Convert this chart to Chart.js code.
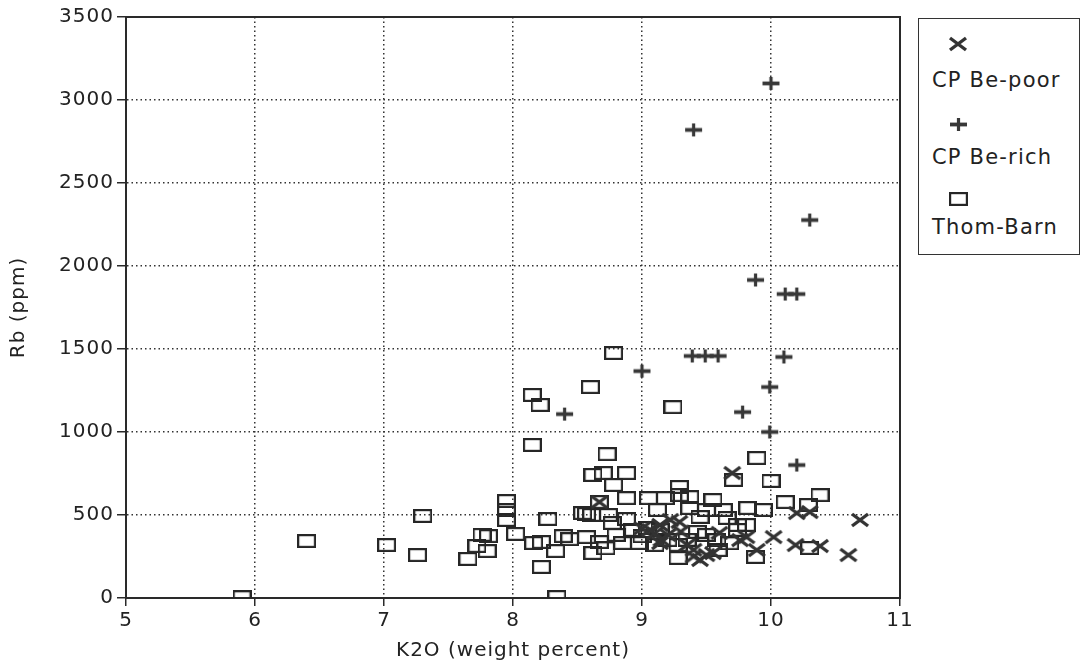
<!DOCTYPE html>
<html><head><meta charset="utf-8">
<script src="https://cdn.jsdelivr.net/npm/chart.js@4.4.0/dist/chart.umd.min.js"></script>
<style>
html,body{margin:0;padding:0;background:#fff;}
#wrap{position:relative;width:1081px;height:672px;overflow:hidden;}
#c{position:absolute;left:0;top:0;}
#legend{position:absolute;left:918px;top:18px;width:162px;height:237px;border:1.5px solid #333;box-sizing:border-box;font-family:"DejaVu Sans",sans-serif;font-size:21px;color:#222;letter-spacing:1.2px;background:#fff;}
.lt{position:absolute;left:13px;white-space:nowrap;line-height:24px;}
.lm{position:absolute;}
</style></head>
<body><div id="wrap"><canvas id="c" width="1081" height="672"></canvas><div id="legend"></div></div>
<script>
// ---- data ----
const xTicks = [5, 6, 7, 8, 9, 10, 11];
const yTicks = [0, 500, 1000, 1500, 2000, 2500, 3000, 3500];
const seriesNames = ["CP Be-poor", "CP Be-rich", "Thom-Barn"];

const bePoorK2O = [9.70,10.69,10.20,10.30,10.02,10.19,10.38,10.60,9.89,9.76,9.50,9.45,8.67,9.06,9.14,9.22,9.00,9.10,9.20,9.15,9.30,9.35,9.40,9.55,9.60,9.81,9.14,9.29,9.40];
const bePoorRb  = [753,470,512,518,367,319,313,259,289,349,259,229,578,410,440,470,420,390,380,350,400,320,290,271,392,367,331,458,250];

const beRichK2O = [10.00,9.40,10.30,9.88,10.11,10.20,9.00,9.39,9.49,9.59,10.10,9.99,9.78,8.40,9.99,10.20];
const beRichRb  = [3100,2820,2277,1916,1831,1831,1367,1458,1458,1458,1452,1271,1120,1108,1000,801];

const thomK2O = [5.90,6.40,7.02,7.30,7.26,7.65,7.72,7.76,7.81,7.80,7.95,7.95,7.95,8.02,8.15,8.15,8.21,8.16,8.22,8.22,8.27,8.33,8.34,8.39,8.44,8.54,8.57,8.60,8.62,8.62,8.70,8.67,8.67,8.73,8.57,8.61,8.74,8.77,8.78,8.78,8.85,8.88,8.88,8.88,8.93,8.98,9.04,9.05,9.12,9.18,9.24,9.29,9.29,9.28,9.28,9.37,9.43,9.50,9.55,9.58,9.59,9.63,9.71,9.74,9.81,9.82,9.88,9.89,9.94,10.00,10.11,10.29,10.30,10.38,9.14,9.20,9.10,8.80,9.37,9.45,9.66,9.74,9.35,9.50,9.68,9.00,8.72];
const thomRb  = [5,343,319,494,259,235,313,380,373,283,584,530,470,386,922,1223,1163,331,337,187,476,283,6,373,355,512,367,1271,741,271,753,337,578,867,506,500,500,452,681,1476,331,753,602,476,410,331,422,602,530,602,1150,669,620,319,241,542,398,530,590,349,289,530,711,440,440,542,247,843,530,705,578,560,301,620,410,349,319,380,608,488,482,410,350,380,330,372,300];

// ---- marker glyphs ----
function makeMarker(type) {
  const c = document.createElement('canvas');
  let w, h;
  if (type === 'rect') { w = 19; h = 14; }
  else if (type === 'cross') { w = 20; h = 16; }
  else { w = 19; h = 15; }
  c.width = w; c.height = h;
  const g = c.getContext('2d');
  if (type === 'rect') {
    g.strokeStyle = '#262626'; g.lineWidth = 2.2;
    g.strokeRect(1.1, 1.1, w - 2.2, h - 2.2);
  } else if (type === 'cross') {
    g.strokeStyle = '#333'; g.lineWidth = 3.4;
    g.beginPath(); g.moveTo(2, 2); g.lineTo(w - 2, h - 2); g.moveTo(w - 2, 2); g.lineTo(2, h - 2); g.stroke();
  } else {
    g.strokeStyle = '#383838';
    g.lineWidth = 3.8; g.beginPath(); g.moveTo(1, h / 2); g.lineTo(w - 1, h / 2); g.stroke();
    g.lineWidth = 3.2; g.beginPath(); g.moveTo(w / 2, 1); g.lineTo(w / 2, h - 1); g.stroke();
  }
  return c;
}
const crossImg = makeMarker('cross');
const plusImg = makeMarker('plus');
const rectImg = makeMarker('rect');

function pts(xs, ys) { return xs.map((x, i) => ({ x: x, y: ys[i] })); }

// ---- legend (HTML) ----
const legend = document.getElementById('legend');
const legendItems = [
  { img: makeMarker('cross'), my: 25, ty: 49, text: seriesNames[0] },
  { img: makeMarker('plus'), my: 105, ty: 126, text: seriesNames[1] },
  { img: makeMarker('rect'), my: 180, ty: 196, text: seriesNames[2] }
];
legendItems.forEach(it => {
  it.img.className = 'lm';
  it.img.style.left = (39 - it.img.width / 2) + 'px';
  it.img.style.top = (it.my - it.img.height / 2) + 'px';
  legend.appendChild(it.img);
  const t = document.createElement('div');
  t.className = 'lt'; t.style.top = it.ty + 'px'; t.textContent = it.text;
  legend.appendChild(t);
});

const spacingPlugin = {
  id: 'spacing',
  beforeLayout(chart) { chart.ctx.letterSpacing = '1px'; },
  beforeDraw(chart) { chart.ctx.letterSpacing = '1px'; }
};
const framePlugin = {
  id: 'frame',
  beforeDatasetsDraw(chart) {
    const a = chart.chartArea, ctx = chart.ctx;
    ctx.save();
    ctx.strokeStyle = '#2a2a2a'; ctx.lineWidth = 2;
    ctx.strokeRect(a.left, a.top, a.right - a.left, a.bottom - a.top);
    ctx.restore();
  }
};

const font = { family: '"DejaVu Sans", sans-serif', size: 20 };
const plain = v => String(v);
new Chart(document.getElementById('c'), {
  type: 'scatter',
  data: {
    datasets: [
      { label: seriesNames[0], data: pts(bePoorK2O, bePoorRb), pointStyle: crossImg, pointRadius: 8 },
      { label: seriesNames[1], data: pts(beRichK2O, beRichRb), pointStyle: plusImg, pointRadius: 8 },
      { label: seriesNames[2], data: pts(thomK2O, thomRb), pointStyle: rectImg, pointRadius: 8 }
    ]
  },
  options: {
    responsive: false,
    animation: false,
    devicePixelRatio: 1,
    layout: { padding: { left: 0, right: 181, top: 17, bottom: 0 } },
    plugins: { legend: { display: false }, tooltip: { enabled: false } },
    scales: {
      x: {
        type: 'linear', min: xTicks[0], max: xTicks[xTicks.length - 1],
        afterBuildTicks: s => { s.ticks = xTicks.map(v => ({ value: v })); },
        afterFit: s => { s.height = 74; },
        ticks: { font: font, color: '#222', padding: 3, autoSkip: false, maxRotation: 0, callback: plain },
        grid: { color: '#333', lineWidth: 1.5, tickLength: 8, tickColor: '#2a2a2a', tickWidth: 1.5, tickBorderDash: [] },
        border: { display: true, color: '#2a2a2a', width: 2, dash: [1.5, 3] },
        title: { display: true, text: 'K2O (weight percent)', font: font, color: '#222', padding: { top: 0, bottom: 9 } }
      },
      y: {
        type: 'linear', min: yTicks[0], max: yTicks[yTicks.length - 1],
        afterBuildTicks: s => { s.ticks = yTicks.map(v => ({ value: v })); },
        afterFit: s => { s.width = 126; },
        ticks: { font: font, color: '#222', padding: 3, autoSkip: false, callback: plain },
        grid: { color: '#333', lineWidth: 1.5, tickLength: 9, tickColor: '#2a2a2a', tickWidth: 1.5, tickBorderDash: [] },
        border: { display: true, color: '#2a2a2a', width: 2, dash: [1.5, 3] },
        title: { display: true, text: 'Rb (ppm)', font: font, color: '#222', padding: { top: 7, bottom: 0 } }
      }
    }
  },
  plugins: [spacingPlugin, framePlugin]
});
</script>
</body></html>
